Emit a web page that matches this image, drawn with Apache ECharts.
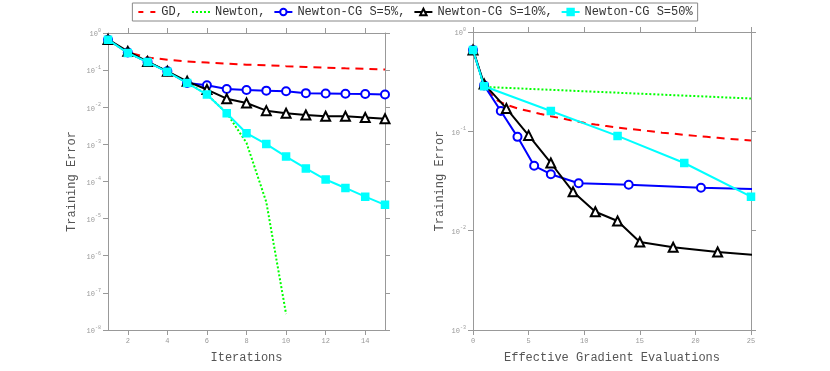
<!DOCTYPE html>
<html>
<head>
<meta charset="utf-8">
<script src="https://cdn.jsdelivr.net/npm/echarts@6/dist/echarts.min.js"></script>
<style>
html, body { margin: 0; padding: 0; background: #fff; }
#chart { width: 830px; height: 371px; }
</style>
</head>
<body>
<div id="chart"></div>
<script>
// left panel: error per iteration
const iterX = [1, 2, 3, 4, 5, 6, 7, 8, 9, 10, 11, 12, 13, 14, 15]
const iterTicks = [2, 4, 6, 8, 10, 12, 14]
const gdIter = [0.65, 0.30, 0.22, 0.19, 0.17, 0.16, 0.15, 0.14, 0.135, 0.128, 0.122, 0.117, 0.112, 0.108, 0.104]
const newtonIter = [0.66, 0.29, 0.168, 0.092, 0.046, 0.022, 0.007, 0.0011, 2.8e-5, 2.7e-8]
const cg5Iter = [0.66, 0.30, 0.165, 0.093, 0.045, 0.039, 0.031, 0.029, 0.028, 0.027, 0.024, 0.0235, 0.023, 0.0227, 0.022]
const cg10Iter = [0.67, 0.32, 0.17, 0.093, 0.05, 0.030, 0.017, 0.013, 0.0081, 0.0069, 0.0062, 0.0057, 0.0057, 0.0053, 0.0049]
const cg50Iter = [0.66, 0.29, 0.165, 0.09, 0.045, 0.022, 0.0069, 0.002, 0.00102, 0.00047, 0.000225, 0.000113, 6.7e-5, 3.9e-5, 2.35e-5]

// right panel: error per effective gradient evaluation
const gdEvalX = [0, 1, 2, 3, 4, 5, 6, 7, 8, 9, 10, 11, 12, 13, 14, 15, 16, 17, 18, 19, 20, 21, 22, 23, 24, 25]
const gdEval = [0.65, 0.29, 0.21, 0.185, 0.17, 0.16, 0.15, 0.142, 0.135, 0.128, 0.122, 0.117, 0.113, 0.109, 0.106, 0.103, 0.1, 0.097, 0.095, 0.092, 0.09, 0.088, 0.086, 0.084, 0.0825, 0.081]
const newtonEvalX = [0, 1, 25]
const newtonEval = [0.66, 0.28, 0.214]
const cg5EvalX = [0, 1, 2.5, 4, 5.5, 7, 9.5, 14, 20.5, 27]
const cg5Eval = [0.66, 0.29, 0.16, 0.088, 0.045, 0.037, 0.030, 0.029, 0.027, 0.026]
const cg10EvalX = [0, 1, 3, 5, 7, 9, 11, 13, 15, 18, 22, 26]
const cg10Eval = [0.66, 0.30, 0.17, 0.091, 0.048, 0.0246, 0.0155, 0.0125, 0.0077, 0.0068, 0.0061, 0.0056]
const cg50EvalX = [0, 1, 7, 13, 19, 25]
const cg50Eval = [0.66, 0.284, 0.16, 0.09, 0.048, 0.022]

const seriesNames = ["GD", "Newton", "Newton-CG S=5%", "Newton-CG S=10%", "Newton-CG S=50%"]

const mono = "Liberation Mono"
const axisGray = "#999"

function pairs(xs, ys) {
	return ys.map((y, i) => [xs[i], y])
}

function logLabel(v) {
	return "{b|10}{e|" + Math.round(Math.log10(v)) + "}"
}

const logRich = {
	b: { fontSize: 7, fontFamily: mono, color: axisGray, lineHeight: 10, verticalAlign: "bottom" },
	e: { fontSize: 5, fontFamily: mono, color: axisGray, lineHeight: 7, verticalAlign: "top" },
}

function xAx(grid, min, max, ticks, name, show) {
	const tick = { show: true, inside: false, length: 5, lineStyle: { color: axisGray } }
	if (ticks) tick.customValues = ticks
	const label = {
		show: show,
		fontSize: 7,
		fontFamily: mono,
		color: axisGray,
		margin: 8,
	}
	if (ticks) label.customValues = ticks
	return {
		type: "value",
		gridIndex: grid,
		min: min,
		max: max,
		interval: ticks ? undefined : 5,
		position: show ? "bottom" : "top",
		name: show ? name : "",
		nameLocation: "middle",
		nameGap: 22,
		nameTextStyle: { fontFamily: mono, fontSize: 12, color: "#555" },
		axisLine: { show: true, onZero: false, lineStyle: { color: axisGray, width: 1 } },
		axisTick: tick,
		axisLabel: label,
		splitLine: { show: false },
	}
}

function yAx(grid, min, name, show, gap) {
	return {
		type: "log",
		logBase: 10,
		gridIndex: grid,
		min: min,
		max: 1,
		interval: 1,
		position: show ? "left" : "right",
		name: show ? name : "",
		nameLocation: "middle",
		nameGap: gap,
		nameTextStyle: { fontFamily: mono, fontSize: 12, color: "#555" },
		axisLine: { show: true, onZero: false, lineStyle: { color: axisGray, width: 1 } },
		axisTick: { show: true, inside: false, length: 5, lineStyle: { color: axisGray } },
		axisLabel: { show: show, formatter: logLabel, rich: logRich, margin: 7 },
		splitLine: { show: false },
		minorTick: { show: false },
	}
}

const styles = [
	{ color: "#ff0000", type: [8, 6], legendType: [5, 7], symbol: "none", size: 0 },
	{ color: "#00ff00", type: [2, 2], legendType: [2, 2], symbol: "none", size: 0 },
	{ color: "#0000ff", type: "solid", legendType: "solid", symbol: "emptyCircle", size: 8 },
	{ color: "#000000", type: "solid", legendType: "solid", symbol: "emptyTriangle", size: 9 },
	{ color: "#00ffff", type: "solid", legendType: "solid", symbol: "rect", size: 7 },
]

function makeSeries(idx, xAxisIndex, yAxisIndex, data) {
	const s = styles[idx]
	return {
		name: seriesNames[idx],
		type: "line",
		xAxisIndex: xAxisIndex,
		yAxisIndex: yAxisIndex,
		data: data,
		clip: true,
		symbol: s.symbol,
		symbolSize: s.size,
		showSymbol: s.symbol !== "none",
		color: s.color,
		lineStyle: { color: s.color, width: 2, type: s.type },
		itemStyle: { color: s.color, borderColor: s.color, borderWidth: 1.5 },
		animation: false,
		z: 2 + idx,
	}
}

const legendData = seriesNames.map((name, i) => {
	const s = styles[i]
	const item = { name: name, lineStyle: { type: s.legendType, width: 2, color: s.color } }
	if (s.symbol === "none") item.itemStyle = { opacity: 0 }
	return item
})

const chart = echarts.init(document.getElementById("chart"), null, { renderer: "canvas" })
chart.setOption({
	animation: false,
	backgroundColor: "#fff",
	legend: {
		data: legendData,
		top: 3,
		left: "center",
		itemWidth: 18,
		itemHeight: 8,
		itemGap: 8,
		padding: [3, 5],
		borderColor: "#888",
		borderWidth: 1,
		selectedMode: false,
		textStyle: { fontFamily: mono, fontSize: 12, color: "#333" },
		formatter: (name) => name + (name === seriesNames[seriesNames.length - 1] ? "" : ","),
	},
	grid: [
		{ left: 108, top: 33, width: 277, height: 297 },
		{ left: 473, top: 32, width: 278, height: 298 },
	],
	xAxis: [
		xAx(0, 1, 15, iterTicks, "Iterations", true),
		xAx(0, 1, 15, iterTicks, "", false),
		xAx(1, 0, 25, null, "Effective Gradient Evaluations", true),
		xAx(1, 0, 25, null, "", false),
	],
	yAxis: [
		yAx(0, 1e-8, "Training Error", true, 30),
		yAx(0, 1e-8, "", false, 0),
		yAx(1, 1e-3, "Training Error", true, 27),
		yAx(1, 1e-3, "", false, 0),
	],
	series: [
		makeSeries(0, 0, 0, pairs(iterX, gdIter)),
		makeSeries(1, 0, 0, pairs(iterX, newtonIter)),
		makeSeries(2, 0, 0, pairs(iterX, cg5Iter)),
		makeSeries(3, 0, 0, pairs(iterX, cg10Iter)),
		makeSeries(4, 0, 0, pairs(iterX, cg50Iter)),
		makeSeries(0, 2, 2, pairs(gdEvalX, gdEval)),
		makeSeries(1, 2, 2, pairs(newtonEvalX, newtonEval)),
		makeSeries(2, 2, 2, pairs(cg5EvalX, cg5Eval)),
		makeSeries(3, 2, 2, pairs(cg10EvalX, cg10Eval)),
		makeSeries(4, 2, 2, pairs(cg50EvalX, cg50Eval)),
	],
})
</script>
</body>
</html>
